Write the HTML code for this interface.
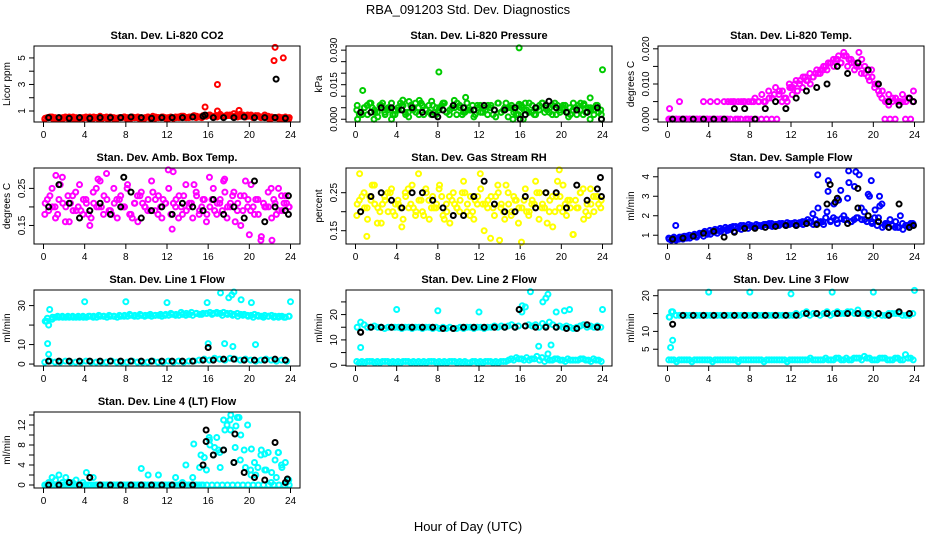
<!DOCTYPE html>
<html><head><meta charset="utf-8"><style>
html,body{margin:0;padding:0;background:#fff}
svg{display:block;font-family:"Liberation Sans",Arial,sans-serif}
</style></head><body>
<svg id="chart" width="936" height="540" viewBox="0 0 936 540" xmlns="http://www.w3.org/2000/svg">
<rect width="936" height="540" fill="#fff"/>
<text x="468" y="14" text-anchor="middle" font-size="13">RBA_091203  Std. Dev. Diagnostics</text>
<text x="468" y="531" text-anchor="middle" font-size="13">Hour of Day (UTC)</text>
<g id="panels"></g>
</svg>
<script>
// ---- data ----
const hourTicks = [0,4,8,12,16,20,24];

const co2Color = [0.45,0.5,0.55,0.45,0.5,0.4,0.5,0.55,0.45,0.5,0.5,0.45,0.5,0.55,0.45,0.5,0.6,0.5,0.45,0.55,0.5,0.45,0.5,0.55,0.5,0.45,0.5,0.55,0.5,0.45,0.55,0.5,0.45,0.5,0.55,0.5,0.45,0.5,0.55,0.5,0.6,0.5,0.55,0.6,0.5,0.55,0.65,0.6,0.7,0.6,0.65,0.75,0.6,0.7,0.65,0.8,0.7,0.6,0.65,0.7,0.7,0.6,0.65,0.55,0.7,0.6,0.55,0.5,0.45,0.5,0.55,0.4];
const co2Color2 = [0.4,0.55,0.5,0.45,0.55,0.5,0.4,0.5,0.55,0.45,0.5,0.4,0.55,0.5,0.45,0.5,0.4,0.55,0.5,0.45,0.55,0.6,0.5,0.55,0.5,0.45,0.55,0.6,0.5,0.65,0.55,0.6,0.7,0.55,0.65,0.6,0.7,0.6,0.75,0.55,0.6,0.65,0.5,0.55,0.45,0.5,0.4,0.45];
const co2Color3 = [0.5,0.45,0.4,0.5,0.45,0.55,0.4,0.5,0.45,0.55,0.4,0.5,0.45,0.4,0.5,0.55,0.45,0.5,0.4,0.5,0.45,0.55,0.5,0.45,0.55,0.5,0.6,0.5,0.55,0.6,0.5,0.65,0.6,0.55,0.6,0.65,0.6,0.55,0.7,0.6,0.5,0.6,0.55,0.45,0.5,0.55,0.45,0.5];
const co2Out = [[15.7,1.3],[16.9,3.0],[16.9,1.0],[19.0,1.05],[22.4,4.8],[22.5,5.8],[23.3,5.0]];
const co2Black = [0.5,0.5,0.45,0.5,0.45,0.5,0.5,0.5,0.55,0.5,0.45,0.5,0.5,0.5,0.55,0.6,0.5,0.5,0.5,0.55,0.5,0.5,0.5,0.45];
const co2BlackOut = [[22.6,3.4],[15.7,0.7]];

const presColor = [.006,.003,.005,.002,.007,.004,.001,.006,.003,.005,.007,.002,.004,.006,.003,.001,.005,.007,.002,.006,.004,.003,.006,.002,.005,.007,.003,.004,.006,.002,.005,.003,.007,.004,.001,.006,.003,.005,.002,.006,.004,.007,.003,.005,.001,.006,.004,.002,.005,.007,.003,.006,.002,.004,.007,.005,.003,.006,.002,.004,.006,.003,.005,.007,.002,.004,.006,.003,.005,.002,.006,.004];
const presColor2 = [.004,.002,.006,.005,.003,.007,.004,.002,.005,.006,.003,.004,.005,.002,.006,.003,.004,.007,.002,.005,.006,.003,.004,.002,.006,.004,.005,.001,.003,.007,.005,.002,.006,.004,.003,.005,.007,.004,.002,.006,.005,.003,.004,.006,.002,.005,.004,.003];
const presColor3 = [.002,.005,.007,.003,.006,.002,.005,.004,.007,.002,.006,.003,.007,.004,.002,.005,.006,.003,.005,.007,.002,.004,.006,.005,.003,.006,.002,.007,.004,.005,.003,.006,.004,.007,.002,.006,.003,.005,.007,.003,.006,.002,.005,.007,.003,.004,.006,.002];
const presOut = [[0.7,0.0125],[4.6,0.0083],[5.2,0.0077],[6.2,0.0082],[7.4,0.0078],[8.1,0.0205],[9.6,0.0082],[10.7,0.0095],[15.9,0.031],[15.9,0.0065],[22.8,0.0093],[22.2,0.0067],[24,0.0215],[0.2,0],[3.5,0],[1.8,0],[15.3,0],[16.3,0],[22.8,0],[23.9,0],[20.7,0.001]];
const presBlack = [.003,.003,.005,.005,.004,.005,.003,.002,.004,.006,.005,.004,.006,.004,.004,.005,.002,.005,.006,.005,.003,.004,.003,.005];
const presBlackOut = [[8,0.001],[16,0],[23.9,0],[18.8,0.0078]];

const tempColor = [0,0,0,0.005,0,0,0,0,0,0,0.005,0,0.005,0,0.005,0,0.005,0,0.005,0.005,0,0.005,0.005,0,0.005,0.006,0.005,0.007,0.005,0.008,0.006,0.009,0.007,0.008,0.006,0.01,0.009,0.011,0.01,0.012,0.011,0.013,0.012,0.014,0.013,0.015,0.014,0.016,0.015,0.017,0.016,0.018,0.015,0.017,0.014,0.016,0.013,0.015,0.012,0.014,0.01,0.008,0.006,0.005,0.007,0.005,0.006,0.005,0.007,0.005,0.006,0.005];
const tempColor2 = [0,0,0,0,0,0,0,0,0,0,0,0,0,0,0,0,0,0,0,0,0,0,0.005,0.005,0.007,0.008,0.009,0.011,0.012,0.013,0.014,0.016,0.017,0.018,0.019,0.017,0.016,0.015,0.013,0.011,0.009,0.007,0,0,0,0.005,0,0];
const tempColor3 = [0,0,0,0,0,0,0,0,0,0,0,0.005,0.005,0.005,0.005,0.005,0.005,0.005,0.005,0.006,0.007,0.008,0.006,0.009,0.01,0.011,0.012,0.01,0.013,0.014,0.015,0.016,0.017,0.016,0.018,0.016,0.015,0.017,0.014,0.012,0.01,0.008,0.005,0.006,0.005,0.005,0.006,0.005];
const tempOut = [[18.6,0.019],[0.2,0.003],[12,0.009],[21.5,0.004],[23.9,0.008]];
const tempBlack = [0,0,0,0,0,0,0.003,0.003,0,0.003,0.005,0.003,0.006,0.008,0.009,0.01,0.015,0.013,0.016,0.014,0.01,0.005,0.004,0.006];
const tempBlackOut = [[23.9,0.005]];

const ambColor = [.21,.19,.25,.17,.22,.28,.2,.16,.23,.19,.26,.18,.21,.15,.24,.2,.27,.18,.22,.19,.25,.17,.23,.2,.26,.18,.21,.16,.24,.2,.22,.27,.19,.23,.17,.21,.25,.14,.2,.23,.18,.26,.21,.17,.24,.19,.22,.16,.2,.25,.18,.22,.27,.17,.21,.24,.19,.15,.23,.2,.26,.18,.22,.12,.2,.24,.17,.21,.25,.19,.23,.2];
const ambColor2 = [.18,.23,.2,.26,.16,.21,.24,.19,.22,.17,.25,.2,.29,.18,.22,.2,.25,.17,.23,.21,.19,.24,.18,.22,.3,.21,.17,.23,.2,.26,.18,.22,.28,.19,.21,.24,.2,.16,.23,.27,.19,.22,.11,.2,.25,.18,.23,.21];
const ambColor3 = [.22,.2,.18,.21,.23,.19,.2,.22,.18,.21,.2,.23,.19,.21,.22,.2,.18,.21,.23,.2,.19,.22,.2,.21,.18,.22,.2,.19,.21,.23,.2,.18,.22,.21,.19,.2,.23,.21,.19,.22,.2,.18,.21,.2,.22,.19,.21,.2];
const ambOut = [[1.2,0.285],[5.3,0.275],[12.6,0.295],[17.6,0.275],[22.2,0.11],[20,0.125]];
const ambBlack = [.2,.26,.21,.17,.19,.21,.18,.2,.24,.17,.19,.2,.18,.21,.2,.19,.22,.18,.2,.17,.27,.16,.2,.19];
const ambBlackOut = [[7.8,.28],[23.8,.23],[23.8,.18]];

const rhColor = [.22,.2,.25,.18,.23,.27,.21,.17,.24,.2,.26,.19,.22,.16,.25,.21,.27,.19,.23,.2,.26,.18,.24,.21,.27,.19,.22,.17,.25,.21,.23,.28,.2,.24,.18,.22,.26,.15,.21,.24,.19,.27,.22,.18,.25,.2,.23,.17,.21,.26,.19,.23,.28,.18,.22,.25,.2,.16,.24,.21,.27,.19,.23,.14,.21,.25,.18,.22,.26,.2,.24,.21];
const rhColor2 = [.19,.24,.21,.27,.17,.22,.25,.2,.23,.18,.26,.21,.3,.19,.23,.21,.26,.18,.24,.22,.2,.25,.19,.23,.3,.22,.13,.24,.21,.27,.19,.23,.12,.2,.22,.25,.21,.17,.24,.28,.2,.23,.14,.21,.26,.19,.24,.22];
const rhColor3 = [.23,.21,.24,.22,.2,.23,.25,.22,.21,.24,.22,.2,.23,.25,.21,.22,.24,.2,.23,.21,.25,.22,.2,.24,.22,.23,.21,.25,.2,.22,.24,.21,.23,.2,.22,.25,.21,.23,.2,.24,.22,.21,.23,.25,.2,.22,.24,.23];
const rhOut = [[0.4,0.3],[19.8,0.31],[14,0.125],[1.1,0.135]];
const rhBlack = [.2,.24,.25,.23,.21,.25,.25,.23,.21,.19,.19,.24,.28,.22,.2,.2,.24,.21,.25,.25,.21,.27,.23,.26];
const rhBlackOut = [[23.8,.29],[23.9,.24]];

const flowColor = [.8,.85,.75,.9,.8,.95,.85,1,.9,1.05,.95,1.1,1.05,1.15,1.1,1.2,1.15,1.25,1.3,1.2,1.35,1.3,1.4,1.35,1.45,1.4,1.5,1.45,1.55,1.5,1.45,1.55,1.5,1.6,1.5,1.55,1.6,1.5,1.65,1.55,1.6,1.7,1.55,1.6,1.65,1.55,2.2,1.7,2.6,1.6,3.3,1.8,2.9,1.7,3.5,1.9,2.4,1.8,3.1,1.7,2.3,1.9,2.6,1.6,1.4,1.5,1.7,1.4,1.6,1.5,1.4,1.6];
const flowColor2 = [.85,.9,.8,.95,1,1.05,1.1,1.2,1.25,1.3,1.35,1.4,1.4,1.45,1.5,1.45,1.5,1.55,1.5,1.55,1.6,1.55,1.6,1.65,1.6,1.55,1.7,1.8,2.1,2.4,1.7,3.8,1.9,2.8,2.0,3.7,1.8,4.1,2.2,3.0,1.9,2.5,1.5,1.8,1.4,2.0,1.5,1.6];
const flowColor3 = [.75,.8,.9,.85,.95,1,1.1,1.05,1.2,1.25,1.3,1.35,1.45,1.4,1.5,1.55,1.45,1.5,1.55,1.6,1.5,1.6,1.55,1.6,1.65,1.6,1.7,1.65,1.8,1.7,1.9,1.75,1.8,1.85,1.8,1.7,1.9,1.8,1.7,1.6,1.5,1.4,1.6,1.5,1.4,1.3,1.5,1.55];
const flowOut = [[14.6,4.1],[17.6,4.3],[18.3,4.25],[19.8,3.8],[15.6,3.25],[20.6,3.0],[0.8,1.5]];
const flowBlack = [.8,.85,.95,1.1,1.2,.9,1.15,1.35,1.35,1.4,1.45,1.5,1.5,1.6,1.55,2.6,2.9,1.6,2.4,2.0,1.7,1.4,2.6,1.4];
const flowBlackOut = [[15.8,3.6],[18.5,3.4],[16.3,2.7],[23.9,1.5]];

const line1Color = [22,20,23,24,24,24.5,24,24,24.5,24,24,24.5,24,24.5,24,24,24.5,24.5,24,24.5,24.5,24,24.5,24.5,24.5,25,24.5,24.5,25,24.5,25,24.5,25,25,24.5,25,25,25.5,25,25,25.5,25,25.5,25,26,25.5,26,26,26.5,26,26.5,26,26.5,26,26,25.5,26,25.5,25.5,25,25,25.5,25,24.5,25,24.5,25,24.5,24,24.5,24,24.5];
const line1Color2 = [1,1.5,1,1,1.5,1,1,1,1.5,1,1,1,1,1.5,1,1,1,1.5,1,1,1,1.5,1,1,1.5,1,1.5,1,1.5,1.5,2,2.5,2,3,2.5,2,3,2.5,2,2.5,2,1.5,2,2.5,2,1.5,2,1.5];
const line1Color3 = [23.5,24,24.5,24,24.5,24,24.5,24,24.5,24.5,25,24.5,25,24.5,25,25,25.5,25,25.5,25,25.5,25,25.5,25.5,26,25.5,26.5,26,26.5,26,25.5,26,25.5,26,25,25.5,25,24.5,25,24.5,24,24.5,24,24.5,24,24.5,24,24.5];
const line1Out = [[4,32],[8,32],[12,31.5],[15.9,31.5],[17.2,36.5],[18.5,37],[18,34],[18.3,35.5],[19.2,33],[20.2,31.5],[24,32],[0.4,10.5],[0.5,5],[0.6,28],[16,10.5],[17.6,10.5],[18.4,9],[20.6,10],[0.3,22]];
const line1Black = [1.5,1.5,1.5,1.5,1.5,1.5,1.5,1.5,1.5,1.5,1.5,1.5,1.5,1.5,1.5,2,2,2.5,2.5,2,2,2,2.5,2];
const line1BlackOut = [[16,8.5]];

const line2Color = [15,17,16,15,15,15.5,15,15,14.5,15,15,15,15,14.5,15,15,14.5,15,15,14.5,15,15,14.5,15,14.5,15,14.5,15,14.5,14.5,15,14.5,15,15,14.5,15,15,14.5,15,15,15.5,15,15.5,15,15.5,16,15,15.5,21,23,16,15.5,16,15,16.5,15.5,17,16,15,15.5,15,15.5,15,14.5,15,15.5,16,15,15.5,15,15.5,15];
const line2Color2 = [1.5,1.5,1.5,1.5,1.5,1.5,1.5,1.5,1.5,1.5,1.5,1.5,1.5,1.5,1.5,1.5,1.5,1.5,1.5,1.5,1.5,1.5,1,1.5,1.5,1.5,1.5,1.5,1.5,1.5,2.5,3,2.5,3,2.5,3.5,3,2.5,2,2.5,2,2.5,2,2,2.5,2,2.5,2];
const line2Color3 = [1,1,1.5,1,1,1.5,1,1,1,1.5,1,1,1,1,1.5,1,1,1,1.5,1,1,1,1.5,1,1,1.5,1,1,1.5,2,2,2.5,2,2,2.5,2,1.5,2,2.5,2,1.5,2,2,2.5,2,1.5,2,1.5];
const line2Out = [[0.5,7],[4,22],[8,21.5],[12,21],[17,29],[18.2,25],[18.5,26.5],[18.7,28],[19.5,21],[20.3,21.5],[20.8,22],[24,22],[17.8,7.5],[18.7,4.5],[19,8],[16.2,23.5]];
const line2Black = [13,15,15,15,15,15,15,15,14.5,14.5,15,15,15,15,15,15,15.5,15,15,15,14.5,14.5,16,15];
const line2BlackOut = [[15.9,22],[0.5,13]];

const line3Color = [14,15.5,14.5,14.5,14.5,14.5,14.5,14.5,14.5,14.5,14.5,14.5,14.5,14.5,14.5,14.5,14.5,14.5,14.5,14.5,14.5,14.5,14.5,14.5,14.5,14.5,14.5,14.5,14.5,14.5,14.5,14.5,14.5,14.5,14.5,14.5,14.5,15,14.5,15,15.5,14.5,15,15,14.5,15,15.5,14.5,15,15.5,15,15,15.5,15.5,15,16,15,15,14.5,15,14.5,15,14.5,14.5,15,15,15,15,14.5,14.5,14.5,15];
const line3Color2 = [2,2,2,2,2,2,2,2,2,2,2,2,2,2,2,2,2,2,2,2,2,2,2,1.5,2,2,2,2,2,2,2,2,2,2.5,2,2,2.5,2.5,3,2.5,2,2.5,2.5,2,2.5,2,3.5,2.5];
const line3Color3 = [2,1.5,2,2,1.5,2,2,2,1.5,2,2,2,2,1.5,2,2,2,2,1.5,2,2,2,2,2,2,2,2,2.5,2,2,2.5,2,2.5,2,2.5,2,2.5,2,2.5,2,2,2.5,2,2,2.5,2,2.5,2];
const line3Out = [[0.3,5.5],[0.5,7.5],[4,21],[8,21],[12,20.5],[16,21],[20,21],[24,21.5],[0.2,14],[0.4,15.5]];
const line3Black = [12,14.5,14.5,14.5,14.5,14.5,14.5,14.5,14.5,14.5,14.5,14.5,14.5,15,15,15,15,15,15,15,15,14.5,15.5,15];
const line3BlackOut = [];

const line4Color = [0,0.5,1.5,1,2,0.5,1.5,0,0.5,1,0,0.5,2.5,0,1.5,0,0,0,0,0,0,0,0,0,0,0,0,0,3.3,0,2,0,0,2,0,0,0,0,1.5,0,0.5,4,0,1.5,0,3.5,0,3,8,6,9.5,3.5,7,12,11,4.5,13.5,10,7,12,2,4.5,3.5,7,3,6.5,2.5,5,6.5,3.5,4.5,1];
const line4Color2 = [0,0,0,0,0,0,0,0,0,0,0,0,0,0,0,0,0,0,0,0,0,0,0,0,0,0,0,0,0,0,0,5.5,9,7.5,6.5,11,13,7.5,5,3.5,3,2,6,3,0.5,1.5,4,0.5];
const line4Color3 = [0,0,0,0,0,0,0,0,0,0,0,0,0,0,0,0,0,0,0,0,0,0,0,0,0,0,0,0,0,0,0,0,0,0,0,0,0,0,0,0,0,0,0,0,0,0,0,0];
const line4Out = [[17.5,13],[18.2,14],[19,13.5],[18.7,11.8],[16.1,9.5],[17,7],[15.3,6],[14.6,8.2],[20.2,7.2],[21.5,6.2],[22.8,6.5]];
const line4Black = [0,0,0.5,0,1.5,0,0,0,0,0,0,0,0,0,0,4,6,7,4.5,2.5,1.5,1,8.5,0.5];
const line4BlackOut = [[15.8,11],[18.6,10.2],[15.8,8.7],[23.7,1.2]];

// ---- layout ----
const colX = [34,346,658];
const rowY = [46,168,290,412];
const BW = 266, BH = 76;
const NS = "http://www.w3.org/2000/svg";
const root = document.getElementById('panels');

function mk(tag, attrs, parent){
  const e = document.createElementNS(NS, tag);
  for (const k in attrs) e.setAttribute(k, attrs[k]);
  parent.appendChild(e);
  return e;
}

const panels = [
  {name:'co2', title:'Stan. Dev. Li-820 CO2', ylab:'Licor ppm', col:'#ff0000', ymin:0.17, ymax:5.9, ticks:[1,2,3,4,5], labels:['1','','3','','5'], c:co2Color, c2:co2Color2, c3:co2Color3, o:co2Out, k:co2Black, ko:co2BlackOut, r:0, cc:0},
  {name:'pressure', title:'Stan. Dev. Li-820 Pressure', ylab:'kPa', col:'#00cc00', ymin:-0.0012, ymax:0.0318, ticks:[0,0.005,0.01,0.015,0.02,0.025,0.03], labels:['0.000','','','0.015','','','0.030'], c:presColor, c2:presColor2, c3:presColor3, o:presOut, k:presBlack, ko:presBlackOut, r:0, cc:1},
  {name:'li820-temp', title:'Stan. Dev. Li-820 Temp.', ylab:'degrees C', col:'#ff00ff', ymin:-0.0008, ymax:0.0208, ticks:[0,0.005,0.01,0.015,0.02], labels:['0.000','','0.010','','0.020'], c:tempColor, c2:tempColor2, c3:tempColor3, o:tempOut, k:tempBlack, ko:tempBlackOut, r:0, cc:2},
  {name:'amb-box-temp', title:'Stan. Dev. Amb. Box Temp.', ylab:'degrees C', col:'#ff00ff', ymin:0.1, ymax:0.305, ticks:[0.15,0.2,0.25], labels:['0.15','','0.25'], c:ambColor, c2:ambColor2, c3:ambColor3, o:ambOut, k:ambBlack, ko:ambBlackOut, r:1, cc:0},
  {name:'gas-stream-rh', title:'Stan. Dev. Gas Stream RH', ylab:'percent', col:'#ffff00', ymin:0.115, ymax:0.315, ticks:[0.15,0.2,0.25], labels:['0.15','','0.25'], c:rhColor, c2:rhColor2, c3:rhColor3, o:rhOut, k:rhBlack, ko:rhBlackOut, r:1, cc:1},
  {name:'sample-flow', title:'Stan. Dev. Sample Flow', ylab:'ml/min', col:'#0000ff', ymin:0.55, ymax:4.45, ticks:[1,2,3,4], labels:['1','2','3','4'], c:flowColor, c2:flowColor2, c3:flowColor3, o:flowOut, k:flowBlack, ko:flowBlackOut, r:1, cc:2},
  {name:'line1-flow', title:'Stan. Dev. Line 1 Flow', ylab:'ml/min', col:'#00ffff', ymin:-1, ymax:38, ticks:[0,10,20,30], labels:['0','10','','30'], c:line1Color, c2:line1Color2, c3:line1Color3, o:line1Out, k:line1Black, ko:line1BlackOut, r:2, cc:0},
  {name:'line2-flow', title:'Stan. Dev. Line 2 Flow', ylab:'ml/min', col:'#00ffff', ymin:-0.3, ymax:29.7, ticks:[0,5,10,15,20,25], labels:['0','','10','','20',''], c:line2Color, c2:line2Color2, c3:line2Color3, o:line2Out, k:line2Black, ko:line2BlackOut, r:2, cc:1},
  {name:'line3-flow', title:'Stan. Dev. Line 3 Flow', ylab:'ml/min', col:'#00ffff', ymin:0.3, ymax:21.6, ticks:[5,10,15,20], labels:['5','10','','20'], c:line3Color, c2:line3Color2, c3:line3Color3, o:line3Out, k:line3Black, ko:line3BlackOut, r:2, cc:2},
  {name:'line4-flow', title:'Stan. Dev. Line 4 (LT) Flow', ylab:'ml/min', col:'#00ffff', ymin:-0.6, ymax:14.6, ticks:[0,2,4,6,8,10,12,14], labels:['0','','4','','8','','12',''], c:line4Color, c2:line4Color2, c3:line4Color3, o:line4Out, k:line4Black, ko:line4BlackOut, r:3, cc:0}
];

panels.forEach(p => {
  const L = colX[p.cc], T = rowY[p.r], R = L + BW, B = T + BH;
  const xs = h => L + 9.5 + h * (BW - 19) / 24;
  const ys = v => B - (v - p.ymin) / (p.ymax - p.ymin) * BH;
  const g = mk('g', {}, root);
  
  

  const t = mk('text', {x:(L+R)/2, y:T-7, 'text-anchor':'middle', 'font-size':11, 'font-weight':'bold'}, g);
  t.textContent = p.title;
  
  

  const yl = mk('text', {x:0, y:0, 'text-anchor':'middle', 'font-size':10, transform:`translate(${L-24},${(T+B)/2}) rotate(-90)`}, g);
  yl.textContent = p.ylab;
  
  

  const xa = mk('g', {}, g);
  
  
  hourTicks.forEach(h => {
    mk('line', {x1:xs(h), x2:xs(h), y1:B, y2:B+5, stroke:'#000', 'stroke-width':1}, xa);
    const tl = mk('text', {x:xs(h), y:B+16, 'text-anchor':'middle', 'font-size':10}, xa);
    tl.textContent = h;
    
    
  });
  const ya = mk('g', {}, g);
  
  
  p.ticks.forEach((v, i) => {
    mk('line', {x1:L-5, x2:L, y1:ys(v), y2:ys(v), stroke:'#000', 'stroke-width':1}, ya);
    if (p.labels[i]) {
      const tl = mk('text', {x:0, y:0, 'text-anchor':'middle', 'font-size':10, transform:`translate(${L-9},${ys(v)}) rotate(-90)`}, ya);
      tl.textContent = p.labels[i];
      
      
    }
  });

  const pts = mk('g', {fill:'none', 'stroke-width':2}, g);
  
  
  const dot = (h, v, color) => {
    const c = mk('circle', {cx:xs(h), cy:ys(v), r:2.5, stroke:color}, pts);
    
    
  };
  p.c.forEach((v, i) => dot((i + 0.5) * 24 / p.c.length, v, p.col));
  p.c2.forEach((v, i) => dot((i + 0.25) * 24 / p.c2.length, v, p.col));
  p.c3.forEach((v, i) => dot((i + 0.75) * 24 / p.c3.length, v, p.col));
  p.o.forEach(d => dot(d[0], d[1], p.col));
  p.k.forEach((v, i) => dot((i + 0.5) * 24 / p.k.length, v, '#000'));
  p.ko.forEach(d => dot(d[0], d[1], '#000'));

  const box = mk('rect', {x:L, y:T, width:BW, height:BH, fill:'none', stroke:'#000', 'stroke-width':1}, g);
  
  
});
</script>
</body></html>
